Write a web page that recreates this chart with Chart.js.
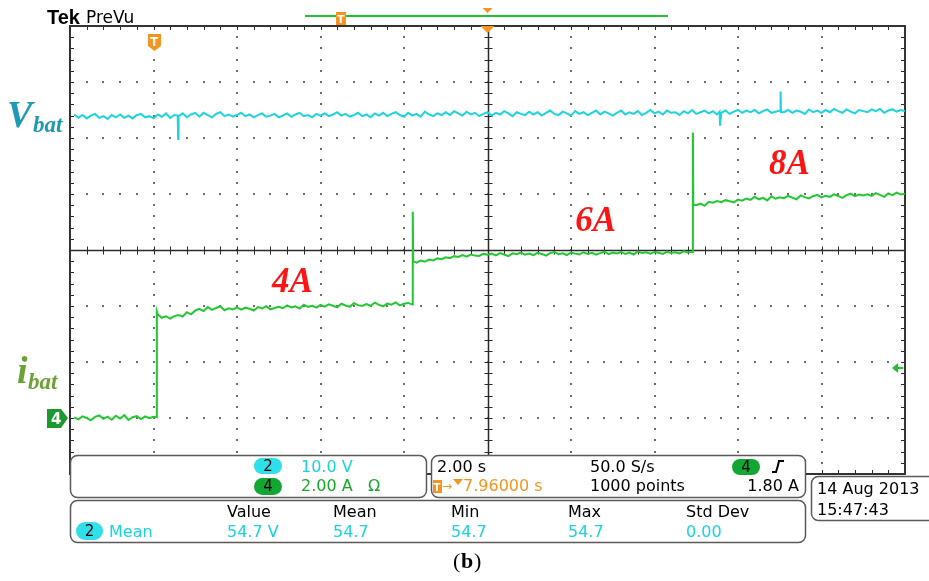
<!DOCTYPE html>
<html>
<head>
<meta charset="utf-8">
<title>Tek PreVu - Vbat / ibat</title>
<script src="https://cdn.jsdelivr.net/npm/chart.js@4.4.0/dist/chart.umd.min.js"></script>
<style>
  html, body { margin: 0; padding: 0; background: #fff; }
  #wrap { width: 929px; height: 581px; }
</style>
</head>
<body>
<div id="wrap"><canvas id="scope" width="929" height="581"></canvas></div>
<script>
// horizontal: 2.00 s/div, 10 divisions
const timeMin = 0, timeMax = 20, secPerDiv = 2;
// ch2 (Vbat) 10.0 V/div, ch4 (ibat) 2.00 A/div, 8 divisions
const voltMin = -9.6, voltMax = 70.4;
const ampMin = -2, ampMax = 14, ampsPerDiv = 2;

// channel 2 - battery voltage (V)
const vbatTime = [
  0.1,0.2,0.3,0.4,0.5,0.6,0.7,0.8,0.9,1.0,
  1.1,1.2,1.3,1.4,1.5,1.6,1.7,1.8,1.9,2.0,
  2.1,2.2,2.3,2.4,2.5,2.58,2.59,2.6,2.7,2.8,2.9,3.0,
  3.1,3.2,3.3,3.4,3.5,3.6,3.7,3.8,3.9,4.0,
  4.1,4.2,4.3,4.4,4.5,4.6,4.7,4.8,4.9,5.0,
  5.1,5.2,5.3,5.4,5.5,5.6,5.7,5.8,5.9,6.0,
  6.1,6.2,6.3,6.4,6.5,6.6,6.7,6.8,6.9,7.0,
  7.1,7.2,7.3,7.4,7.5,7.6,7.7,7.8,7.9,8.0,
  8.1,8.2,8.3,8.4,8.5,8.6,8.7,8.8,8.9,9.0,
  9.1,9.2,9.3,9.4,9.5,9.6,9.7,9.8,9.9,10.0,
  10.1,10.2,10.3,10.4,10.5,10.6,10.7,10.8,10.9,11.0,
  11.1,11.2,11.3,11.4,11.5,11.6,11.7,11.8,11.9,12.0,
  12.1,12.2,12.3,12.4,12.5,12.6,12.7,12.8,12.9,13.0,
  13.1,13.2,13.3,13.4,13.5,13.6,13.7,13.8,13.9,14.0,
  14.1,14.2,14.3,14.4,14.5,14.6,14.7,14.8,14.9,15.0,
  15.1,15.2,15.3,15.4,15.5,15.56,15.57,15.6,15.7,15.8,15.9,16.0,
  16.1,16.2,16.3,16.4,16.5,16.6,16.7,16.8,16.9,17.0,17.01,17.02,17.03,
  17.1,17.2,17.3,17.4,17.5,17.6,17.7,17.8,17.9,18.0,
  18.1,18.2,18.3,18.4,18.5,18.6,18.7,18.8,18.9,19.0,
  19.1,19.2,19.3,19.4,19.5,19.6,19.7,19.8,19.9,20.0
];
const vbatVolts = [
  54.6,54.0,54.5,53.9,54.4,54.7,54.0,54.3,53.8,54.5,
  54.1,54.6,54.0,54.4,53.9,54.5,54.7,54.1,54.3,53.9,
  54.6,54.2,54.8,54.0,54.5,54.4,50.2,54.3,54.8,54.1,54.6,54.9,
  54.2,54.9,54.5,54.1,54.7,55.0,54.3,54.6,54.2,54.5,
  54.9,54.3,54.6,54.1,54.5,54.8,54.2,54.4,54.7,54.1,
  54.4,54.8,54.2,54.6,54.9,54.3,54.5,54.1,54.7,54.4,
  54.8,54.3,54.6,55.0,54.4,54.7,54.2,54.5,54.9,54.3,
  54.6,54.1,54.8,54.4,54.9,54.3,54.7,55.0,54.5,54.2,
  54.9,54.4,54.7,54.2,55.1,54.6,54.3,54.8,54.5,55.0,
  54.5,55.2,54.8,54.4,55.1,54.6,54.9,54.3,54.7,55.0,
  54.4,54.9,54.6,55.2,54.8,54.3,55.0,54.7,54.5,55.1,
  54.6,55.0,54.4,54.9,55.3,54.7,54.5,55.1,54.8,54.4,
  55.2,54.7,55.0,54.5,54.9,55.3,54.6,55.1,54.8,54.4,
  54.9,55.3,54.6,55.0,54.7,55.2,54.5,54.9,55.4,54.8,
  55.1,54.6,55.3,54.9,55.0,54.5,55.2,54.8,55.4,54.7,
  55.0,55.3,54.8,55.2,54.6,55.1,52.6,54.9,55.3,54.7,55.1,55.4,
  54.9,55.3,55.0,55.4,54.8,55.2,55.5,54.9,55.1,55.3,55.2,58.7,55.0,
  55.0,55.4,54.9,55.3,55.1,54.7,55.5,55.0,55.3,54.9,
  55.4,55.0,55.6,55.2,54.9,55.5,55.1,54.8,55.4,55.2,
  55.0,55.5,55.2,55.6,54.9,55.3,55.5,55.1,55.4,55.2
];

// channel 4 - battery current (A), steps 0 -> 4 -> 6 -> 8 A
const ibatTime = [
  0.1,0.2,0.3,0.4,0.5,0.6,0.7,0.8,0.9,1.0,
  1.1,1.2,1.3,1.4,1.5,1.6,1.7,1.8,1.9,2.0,
  2.08,2.08,
  2.1,2.2,2.3,2.4,2.5,2.6,2.7,2.8,2.9,3.0,
  3.1,3.2,3.3,3.4,3.5,3.6,3.7,3.8,3.9,4.0,
  4.1,4.2,4.3,4.4,4.5,4.6,4.7,4.8,4.9,5.0,
  5.1,5.2,5.3,5.4,5.5,5.6,5.7,5.8,5.9,6.0,
  6.1,6.2,6.3,6.4,6.5,6.6,6.7,6.8,6.9,7.0,
  7.1,7.2,7.3,7.4,7.5,7.6,7.7,7.8,7.9,8.0,
  8.1,8.2,8.21,8.22,
  8.3,8.4,8.5,8.6,8.7,8.8,8.9,9.0,
  9.1,9.2,9.3,9.4,9.5,9.6,9.7,9.8,9.9,10.0,
  10.1,10.2,10.3,10.4,10.5,10.6,10.7,10.8,10.9,11.0,
  11.1,11.2,11.3,11.4,11.5,11.6,11.7,11.8,11.9,12.0,
  12.1,12.2,12.3,12.4,12.5,12.6,12.7,12.8,12.9,13.0,
  13.1,13.2,13.3,13.4,13.5,13.6,13.7,13.8,13.9,14.0,
  14.1,14.2,14.3,14.4,14.5,14.6,14.7,14.8,14.9,14.92,14.93,
  15.0,
  15.1,15.2,15.3,15.4,15.5,15.6,15.7,15.8,15.9,16.0,
  16.1,16.2,16.3,16.4,16.5,16.6,16.7,16.8,16.9,17.0,
  17.1,17.2,17.3,17.4,17.5,17.6,17.7,17.8,17.9,18.0,
  18.1,18.2,18.3,18.4,18.5,18.6,18.7,18.8,18.9,19.0,
  19.1,19.2,19.3,19.4,19.5,19.6,19.7,19.8,19.9,20.0
];
const ibatAmps = [
  0.02,-0.05,0.06,0.00,-0.08,0.04,0.09,-0.03,0.05,-0.06,
  0.08,-0.02,0.10,-0.07,0.03,0.07,-0.04,0.06,-0.01,0.04,
  0.03,3.80,
  3.70,3.58,3.63,3.55,3.64,3.68,3.62,3.78,3.70,3.84,
  3.90,3.82,3.96,3.86,3.93,3.99,3.85,3.92,3.88,3.95,
  3.87,3.94,3.90,3.84,3.96,3.91,3.99,3.88,3.93,3.97,
  3.92,4.02,3.95,3.99,3.91,4.05,3.97,4.01,3.94,4.04,
  3.98,4.06,4.01,3.95,4.08,4.02,3.97,4.10,4.03,4.00,
  4.07,4.01,4.12,4.04,3.99,4.09,4.05,4.13,4.02,4.08,
  4.11,4.05,7.37,5.60,
  5.55,5.62,5.58,5.66,5.63,5.70,5.67,5.74,
  5.71,5.78,5.75,5.82,5.76,5.84,5.80,5.79,5.86,5.83,
  5.87,5.81,5.89,5.84,5.78,5.88,5.85,5.91,5.83,5.87,
  5.82,5.90,5.86,5.80,5.89,5.93,5.85,5.88,5.82,5.91,
  5.87,5.84,5.92,5.86,5.90,5.83,5.89,5.94,5.85,5.91,
  5.88,5.93,5.86,5.91,5.84,5.95,5.89,5.92,5.87,5.93,
  5.90,5.86,5.94,5.89,5.92,5.88,5.95,5.91,5.93,10.20,7.62,
  7.60,
  7.66,7.58,7.72,7.69,7.75,7.71,7.78,7.74,7.70,7.80,
  7.76,7.84,7.79,7.90,7.81,7.86,7.77,7.92,7.83,7.88,
  7.85,7.93,7.87,7.81,7.95,7.89,7.84,7.92,7.97,7.88,
  7.94,7.90,7.99,7.93,7.86,7.96,8.01,7.92,7.98,7.95,
  7.99,7.93,8.03,7.97,7.90,8.02,7.96,8.05,7.98,8.01
];

// step annotations on the current trace
const stepLabels = ['4A', '6A', '8A'];

const INFO_FONT = '16px "DejaVu Sans"';
const CYAN_TXT = '#19d2e2';
const GREEN_TXT = '#17a82c';
const ORANGE = '#f7941d';

function rr(ctx, x, y, w, h, r) {
    ctx.beginPath();
    ctx.moveTo(x + r, y);
    ctx.lineTo(x + w - r, y);
    ctx.arcTo(x + w, y, x + w, y + r, r);
    ctx.lineTo(x + w, y + h - r);
    ctx.arcTo(x + w, y + h, x + w - r, y + h, r);
    ctx.lineTo(x + r, y + h);
    ctx.arcTo(x, y + h, x, y + h - r, r);
    ctx.lineTo(x, y + r);
    ctx.arcTo(x, y, x + r, y, r);
    ctx.closePath();
}

function pill(ctx, x, y, w, h, fill, label) {
    rr(ctx, x, y, w, h, h / 2);
    ctx.fillStyle = fill;
    ctx.fill();
    ctx.fillStyle = '#000';
    ctx.font = '15px "DejaVu Sans"';
    ctx.textAlign = 'center';
    ctx.textBaseline = 'middle';
    ctx.fillText(label, x + w / 2, y + h / 2 + 1);
    ctx.textAlign = 'left';
    ctx.textBaseline = 'alphabetic';
}

function txt(ctx, s, x, y, color, font) {
    ctx.font = font || INFO_FONT;
    ctx.fillStyle = color;
    ctx.fillText(s, x, y);
}

function box(ctx, x, y, w, h) {
    rr(ctx, x, y, w, h, 7);
    ctx.fillStyle = '#fff';
    ctx.fill();
    ctx.strokeStyle = '#5a5a5a';
    ctx.lineWidth = 1.5;
    ctx.stroke();
}

// scope graticule: border, dotted divisions, centre cross, minor ticks
const graticule = {
    id: 'graticule',
    beforeDatasetsDraw(chart) {
        const { ctx, chartArea: a, scales } = chart;
        const sx = scales.x, sy = scales.yA;
        const cx = Math.round(sx.getPixelForValue(timeMin + 5 * secPerDiv)) + 0.5;
        const cy = Math.round(sy.getPixelForValue(ampMin + 4 * ampsPerDiv)) + 0.5;
        ctx.save();

        // dotted division lines
        ctx.fillStyle = '#6e6e6e';
        for (let d = 1; d < 10; d++) {
            if (d === 5) continue;
            const px = Math.round(sx.getPixelForValue(timeMin + d * secPerDiv));
            for (let m = 1; m < 40; m++) {
                const py = Math.round(sy.getPixelForValue(ampMin + m * ampsPerDiv / 5));
                ctx.fillRect(px - 1, py - 1, 2, 2);
            }
        }
        for (let d = 1; d < 8; d++) {
            if (d === 4) continue;
            const py = Math.round(sy.getPixelForValue(ampMin + d * ampsPerDiv));
            for (let m = 1; m < 50; m++) {
                const px = Math.round(sx.getPixelForValue(timeMin + m * secPerDiv / 5));
                ctx.fillRect(px - 1, py - 1, 2, 2);
            }
        }

        // centre cross
        ctx.strokeStyle = '#2a2a2a';
        ctx.lineWidth = 1.5;
        ctx.beginPath();
        ctx.moveTo(cx, a.top); ctx.lineTo(cx, a.bottom);
        ctx.moveTo(a.left, cy); ctx.lineTo(a.right, cy);
        ctx.stroke();

        ctx.lineWidth = 1;
        ctx.beginPath();
        for (let m = 1; m < 40; m++) {
            const py = Math.round(sy.getPixelForValue(ampMin + m * ampsPerDiv / 5)) + 0.5;
            ctx.moveTo(cx - 4, py); ctx.lineTo(cx + 4, py);
            ctx.moveTo(a.left, py); ctx.lineTo(a.left + 4, py);
            ctx.moveTo(a.right - 4, py); ctx.lineTo(a.right, py);
        }
        for (let m = 1; m < 50; m++) {
            const px = Math.round(sx.getPixelForValue(timeMin + m * secPerDiv / 5)) + 0.5;
            ctx.moveTo(px, cy - 4); ctx.lineTo(px, cy + 4);
            ctx.moveTo(px, a.top); ctx.lineTo(px, a.top + 4);
            ctx.moveTo(px, a.bottom - 4); ctx.lineTo(px, a.bottom);
        }
        ctx.stroke();

        // frame
        ctx.strokeStyle = '#333';
        ctx.lineWidth = 2;
        ctx.strokeRect(a.left, a.top, a.right - a.left, a.bottom - a.top);
        ctx.restore();
    }
};

// everything printed around the waveform area
const overlay = {
    id: 'overlay',
    afterDraw(chart) {
        const { ctx, chartArea: a, scales } = chart;
        const sx = scales.x, sA = scales.yA;
        ctx.save();

        // header
        txt(ctx, 'Tek', 47, 24, '#000', 'bold 20px "Liberation Sans"');
        txt(ctx, 'PreVu', 86, 23, '#000', '17px "DejaVu Sans"');

        // record bar + trigger markers
        ctx.strokeStyle = '#1ec32a';
        ctx.lineWidth = 2;
        ctx.beginPath(); ctx.moveTo(305, 16); ctx.lineTo(668, 16); ctx.stroke();
        ctx.fillStyle = ORANGE;
        ctx.fillRect(336, 12, 10, 13);
        txt(ctx, 'T', 337, 23, '#fff', 'bold 11px "DejaVu Sans"');
        const tc = sx.getPixelForValue(timeMin + 5 * secPerDiv);
        ctx.fillStyle = ORANGE;
        ctx.beginPath(); ctx.moveTo(tc - 5, 8); ctx.lineTo(tc + 5, 8); ctx.lineTo(tc, 13); ctx.closePath(); ctx.fill();
        ctx.beginPath(); ctx.moveTo(tc - 7, a.top); ctx.lineTo(tc + 7, a.top); ctx.lineTo(tc, a.top + 7); ctx.closePath(); ctx.fill();

        // trigger point badge
        ctx.beginPath();
        ctx.moveTo(148, 34); ctx.lineTo(161, 34); ctx.lineTo(161, 46);
        ctx.lineTo(154.5, 51); ctx.lineTo(148, 46); ctx.closePath();
        ctx.fill();
        txt(ctx, 'T', 150, 46, '#fff', 'bold 12px "DejaVu Sans"');

        // channel labels
        txt(ctx, 'V', 7, 127, '#1d9ab5', 'bold italic 38px "Liberation Serif"');
        txt(ctx, 'bat', 33, 132, '#1d9ab5', 'bold italic 23px "Liberation Serif"');
        txt(ctx, 'i', 17, 383, '#6aa334', 'bold italic 38px "Liberation Serif"');
        txt(ctx, 'bat', 28, 389, '#6aa334', 'bold italic 23px "Liberation Serif"');

        // ch4 ground marker
        const g = Math.round(sA.getPixelForValue(0));
        ctx.fillStyle = '#1b9a30';
        ctx.beginPath();
        ctx.moveTo(47, g - 9); ctx.lineTo(61, g - 9); ctx.lineTo(68, g);
        ctx.lineTo(61, g + 10); ctx.lineTo(47, g + 10); ctx.closePath();
        ctx.fill();
        txt(ctx, '4', 51, g + 6, '#fff', 'bold 15px "DejaVu Sans"');

        // trigger level arrow (1.80 A)
        const tl = Math.round(sA.getPixelForValue(1.8));
        ctx.fillStyle = '#1ec32a';
        ctx.beginPath(); ctx.moveTo(892, tl); ctx.lineTo(898, tl - 5); ctx.lineTo(898, tl + 5); ctx.closePath(); ctx.fill();
        ctx.fillRect(897, tl - 1, 6, 2);

        // step labels
        const stepPos = [[4.84, 4.5], [12.1, 6.68], [16.74, 8.71]];
        stepLabels.forEach((s, i) => {
            txt(ctx, s, sx.getPixelForValue(stepPos[i][0]), sA.getPixelForValue(stepPos[i][1]),
                '#ff1414', 'bold italic 35px "Liberation Serif"');
        });

        // readout boxes
        box(ctx, 70.5, 455.5, 356, 42);
        box(ctx, 431.5, 455.5, 374, 42);
        box(ctx, 70.5, 500.5, 735, 42);
        box(ctx, 811.5, 476.5, 130, 44);

        pill(ctx, 254, 458, 28, 16, '#2fdfe9', '2');
        txt(ctx, '10.0 V', 301, 472, CYAN_TXT);
        pill(ctx, 254, 478, 28, 17, '#12a632', '4');
        txt(ctx, '2.00 A', 301, 491, GREEN_TXT);
        txt(ctx, '\u03A9', 368, 491, GREEN_TXT);

        txt(ctx, '2.00 s', 437, 472, '#000');
        txt(ctx, '50.0 S/s', 590, 472, '#000');
        pill(ctx, 732, 459, 28, 16, '#12a632', '4');
        ctx.strokeStyle = '#000';
        ctx.lineWidth = 2;
        ctx.beginPath();
        ctx.moveTo(772, 472); ctx.lineTo(776, 472);
        ctx.quadraticCurveTo(778, 466, 779, 461); ctx.lineTo(784, 461);
        ctx.stroke();

        ctx.fillStyle = ORANGE;
        ctx.fillRect(433, 480, 9, 13);
        txt(ctx, 'T', 433.5, 491, '#fff', 'bold 10px "DejaVu Sans"');
        txt(ctx, '\u2192', 442, 490, ORANGE, '12px "DejaVu Sans"');
        ctx.fillStyle = ORANGE;
        ctx.beginPath(); ctx.moveTo(453, 479); ctx.lineTo(463, 479); ctx.lineTo(458, 485); ctx.closePath(); ctx.fill();
        txt(ctx, '7.96000 s', 463, 491, ORANGE);
        txt(ctx, '1000 points', 590, 491, '#000');
        ctx.textAlign = 'right';
        txt(ctx, '1.80 A', 799, 491, '#000');
        ctx.textAlign = 'left';

        txt(ctx, '14 Aug 2013', 817, 494, '#000');
        txt(ctx, '15:47:43', 817, 515, '#000');

        const cols = [227, 333, 451, 568, 686];
        ['Value', 'Mean', 'Min', 'Max', 'Std Dev'].forEach((h, i) => txt(ctx, h, cols[i], 517, '#000'));
        pill(ctx, 76, 522, 27, 18, '#2fdfe9', '2');
        txt(ctx, 'Mean', 109, 537, CYAN_TXT);
        ['54.7 V', '54.7', '54.7', '54.7', '0.00'].forEach((v, i) => txt(ctx, v, cols[i], 537, CYAN_TXT));

        // figure caption
        txt(ctx, '(', 453, 568, '#000', '22px "Liberation Serif"');
        txt(ctx, 'b', 461, 568, '#000', 'bold 22px "Liberation Serif"');
        txt(ctx, ')', 474, 568, '#000', '22px "Liberation Serif"');
        ctx.restore();
    }
};

new Chart(document.getElementById('scope'), {
    type: 'line',
    data: {
        datasets: [{
            label: 'Vbat',
            data: vbatTime.map((t, i) => ({ x: t, y: vbatVolts[i] })),
            yAxisID: 'yV',
            borderColor: '#1dd3df',
            borderWidth: 2,
            pointRadius: 0,
            tension: 0
        }, {
            label: 'ibat',
            data: ibatTime.map((t, i) => ({ x: t, y: ibatAmps[i] })),
            yAxisID: 'yA',
            borderColor: '#22c831',
            borderWidth: 2,
            pointRadius: 0,
            tension: 0
        }]
    },
    options: {
        responsive: false,
        animation: false,
        events: [],
        layout: { padding: { left: 70, top: 26, right: 24, bottom: 107 } },
        plugins: { legend: { display: false }, tooltip: { enabled: false } },
        scales: {
            x: { type: 'linear', min: timeMin, max: timeMax, display: false },
            yV: { type: 'linear', min: voltMin, max: voltMax, display: false },
            yA: { type: 'linear', min: ampMin, max: ampMax, display: false }
        }
    },
    plugins: [graticule, overlay]
});
</script>
</body>
</html>
